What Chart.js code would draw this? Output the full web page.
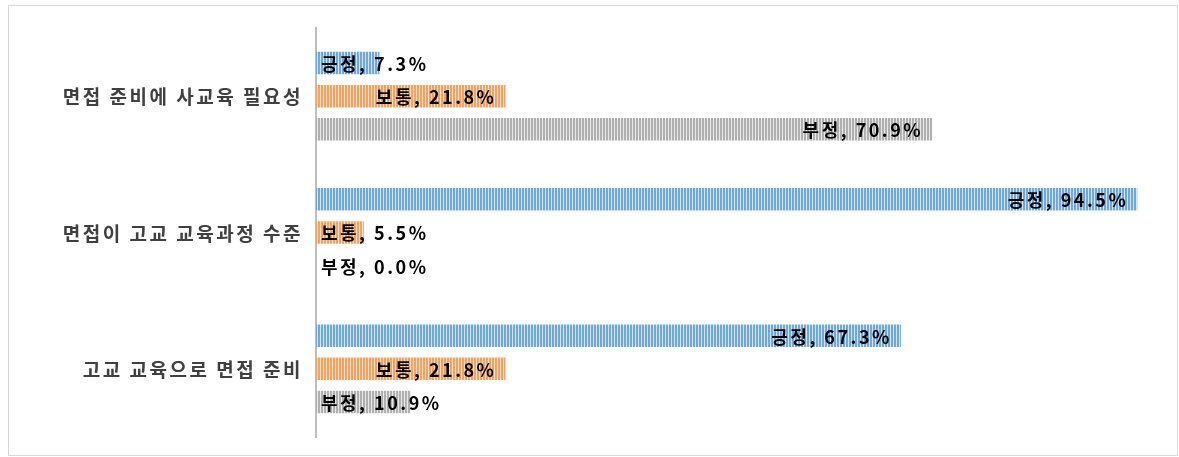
<!DOCTYPE html>
<html>
<head>
<meta charset="utf-8">
<script src="https://cdn.jsdelivr.net/npm/chart.js"></script>
<style>
    body { margin: 0; background: #fff; }
    #frame { position: absolute; left: 8px; top: 5px; width: 1168px; height: 449px; border: 1px solid #d9d9d9; }
    #wrap { position: absolute; left: 0; top: 0; width: 1179px; height: 457px; }
</style>
</head>
<body>
<div id="frame"></div>
<div id="wrap"><canvas id="grafico"></canvas></div>
<script>
    // categorias e valores (%)
    var categorias = ['면접 준비에 사교육 필요성', '면접이 고교 교육과정 수준', '고교 교육으로 면접 준비'];
    var series = ['긍정', '보통', '부정'];
    var positivo = [7.3, 94.5, 67.3];
    var normal = [21.8, 5.5, 21.8];
    var negativo = [70.9, 0.0, 10.9];

    // listras verticais tipo Excel
    function listra(escuro, claro) {
        var c = document.createElement('canvas');
        c.width = 3; c.height = 1;
        var g = c.getContext('2d');
        g.fillStyle = escuro; g.fillRect(0, 0, 3, 1);
        g.fillStyle = claro; g.fillRect(2, 0, 1, 1);
        return g.createPattern(c, 'repeat');
    }

    var rotulos = {
        id: 'rotulos',
        afterDatasetsDraw: function(chart) {
            var ctx = chart.ctx;
            var esq = chart.chartArea.left;
            ctx.save();
            ctx.font = 'bold 18px "Noto Sans CJK KR"';
            ctx.letterSpacing = '2.5px';
            ctx.fillStyle = '#000';
            ctx.textBaseline = 'middle';
            ctx.textAlign = 'left';
            chart.data.datasets.forEach(function(ds, i) {
                chart.getDatasetMeta(i).data.forEach(function(bar, j) {
                    var txt = ds.label + ', ' + ds.data[j].toFixed(1) + '%';
                    var w = ctx.measureText(txt).width;
                    var x = Math.max(bar.x - 9 - w, esq + 5);
                    ctx.fillText(txt, x, bar.y + 1);
                });
            });
            ctx.restore();
        }
    };

    var nomes = {
        id: 'nomes',
        afterDraw: function(chart) {
            var ctx = chart.ctx;
            var ys = chart.scales.y;
            ctx.save();
            ctx.font = 'bold 19px "Noto Sans CJK KR"';
            ctx.letterSpacing = '2.5px';
            ctx.fillStyle = '#404040';
            ctx.textBaseline = 'middle';
            ctx.textAlign = 'right';
            categorias.forEach(function(c, i) {
                ctx.fillText(c, 303, ys.getPixelForValue(i) + 1);
            });
            ctx.restore();
        }
    };

    var ctx = document.getElementById('grafico').getContext('2d');
    new Chart(ctx, {
        type: 'bar',
        data: {
            labels: categorias,
            datasets: [
                { label: series[0], data: positivo, backgroundColor: listra('#6fa8dc', '#d3e5f6') },
                { label: series[1], data: normal, backgroundColor: listra('#f4a261', '#fde0c9') },
                { label: series[2], data: negativo, backgroundColor: listra('#b0b0b0', '#e8e8e8') }
            ]
        },
        options: {
            indexAxis: 'y',
            responsive: true,
            maintainAspectRatio: false,
            animation: false,
            categoryPercentage: 0.73,
            barPercentage: 0.68,
            layout: { padding: { top: 28, bottom: 20, right: 20, left: 0 } },
            plugins: { legend: { display: false }, tooltip: { enabled: false } },
            scales: {
                x: { display: false, min: 0, max: 97 },
                y: {
                    grid: { display: false, drawTicks: false },
                    border: { display: true, color: '#bfbfbf', width: 2 },
                    ticks: { display: false },
                    afterFit: function(s) { s.width = 316; }
                }
            }
        },
        plugins: [rotulos, nomes]
    });
</script>
</body>
</html>
